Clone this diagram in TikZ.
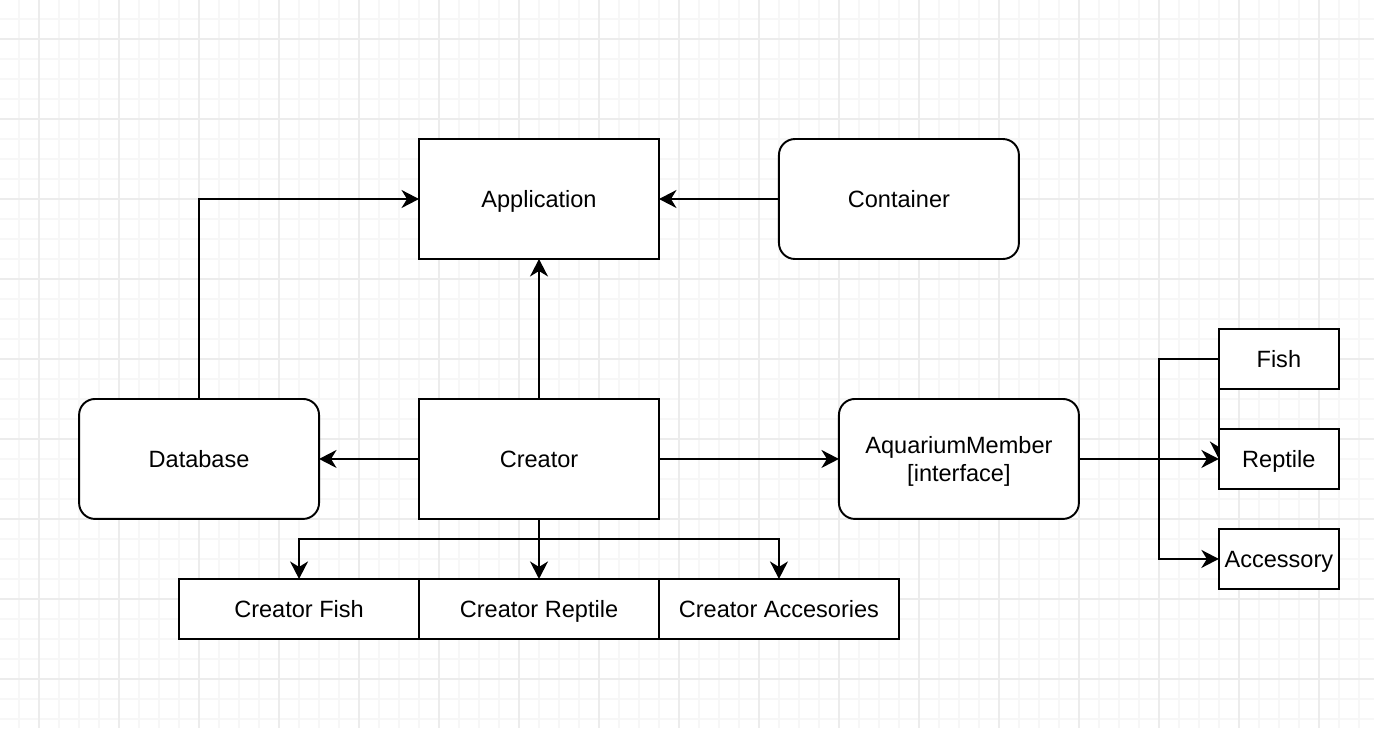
\documentclass[tikz,border=0pt]{standalone}
\usepackage{fontspec}
\setmainfont{Liberation Sans}
\usetikzlibrary{arrows.meta,positioning,backgrounds}
\definecolor{gridminor}{RGB}{247,247,247}
\definecolor{gridmajor}{RGB}{236,236,236}

\begin{document}
\begin{tikzpicture}[
  x=0.02cm, y=-0.02cm,
  >={Stealth[length=3.5mm, width=3.6mm, inset=1.1mm]},
  node distance=2.4cm,
  base/.style={draw, line width=1.1pt, fill=white, align=center, outer sep=0pt,
              inner sep=1pt, minimum width=4.8cm, minimum height=2.4cm,
              font=\fontsize{13.4}{16}\selectfont},
  box/.style={base, text height=9.6pt, text depth=0pt},
  rbox/.style={box, rounded corners=3.2mm},
  sbox/.style={box, minimum height=1.2cm},
  leaf/.style={box, minimum width=2.4cm, minimum height=1.2cm},
  minor/.style={gridminor, line width=0.6pt},
  major/.style={gridmajor, line width=0.6pt},
  link/.style={->, line width=1.1pt}]
\useasboundingbox (0,0) rectangle (1374,728);
\clip (0,0) rectangle (1374,728);
% upper row
\node[box] (app) at (539,199) {Application};
\node[rbox, right=of app] (cont) {Container};
% middle row
\node[box, below=2.8cm of app] (creator) {Creator};
\node[rbox, left=2cm of creator] (db) {Database};
\node[base, rounded corners=3.2mm, text depth=0pt, right=3.6cm of creator] (member) {AquariumMember\\{[interface]}};
% creators
\node[sbox, below=1.2cm of creator] (crreptile) {Creator Reptile};
\node[sbox, left=0cm of crreptile] (crfish) {Creator Fish};
\node[sbox, right=0cm of crreptile] (craccess) {Creator Accesories};
% members
\node[leaf, right=2.8cm of member] (reptile) {Reptile};
\node[leaf, above=0.8cm of reptile] (fish) {Fish};
\node[leaf, below=0.8cm of reptile] (accessory) {Accessory};
\coordinate[below=0.4cm of creator] (fork);
\coordinate[left=1.2cm of fish.west] (trunk);
\begin{scope}[on background layer]
\fill[white] (0,0) rectangle (1374,728);
\foreach \g in {19,39,...,1379} \draw[minor] (\g,0) -- (\g,728);
\foreach \g in {19,39,...,739} \draw[minor] (0,\g) -- (1374,\g);
\foreach \g in {39,119,...,1379} \draw[major] (\g,0) -- (\g,728);
\foreach \g in {39,119,...,739} \draw[major] (0,\g) -- (1374,\g);
\draw[link] (db.north) |- (app.west);
\draw[link] (cont) -- (app);
\draw[link] (creator) -- (app);
\draw[link] (creator) -- (db);
\draw[link] (creator) -- (member);
\draw[link] (creator) -- (crreptile);
\draw[link] (fork) -| (crfish.north);
\draw[link] (fork) -| (craccess.north);
\draw[link] (member) -- (reptile);
\draw[link] (fish.west) -- (trunk) |- (accessory.west);
\draw[link] (fish.south west) -- (reptile.west);
\end{scope}
\end{tikzpicture}
\end{document}
